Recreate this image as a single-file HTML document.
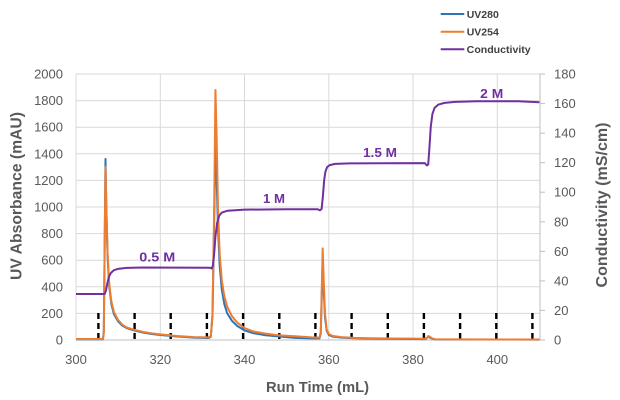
<!DOCTYPE html>
<html><head><meta charset="utf-8"><style>
html,body{margin:0;padding:0;background:#fff;}
svg{display:block;}
text{font-family:"Liberation Sans",sans-serif;}
</style></head><body>
<svg width="620" height="400" viewBox="0 0 620 400" xmlns="http://www.w3.org/2000/svg">
<rect width="620" height="400" fill="#fff"/>
<!-- gridlines -->
<g stroke="#d9d9d9" stroke-width="1">
<line x1="76" y1="74" x2="540" y2="74"/>
<line x1="76" y1="100.6" x2="540" y2="100.6"/>
<line x1="76" y1="127.2" x2="540" y2="127.2"/>
<line x1="76" y1="153.8" x2="540" y2="153.8"/>
<line x1="76" y1="180.4" x2="540" y2="180.4"/>
<line x1="76" y1="207" x2="540" y2="207"/>
<line x1="76" y1="233.6" x2="540" y2="233.6"/>
<line x1="76" y1="260.2" x2="540" y2="260.2"/>
<line x1="76" y1="286.8" x2="540" y2="286.8"/>
<line x1="76" y1="313.4" x2="540" y2="313.4"/>
<line x1="76" y1="74" x2="76" y2="340"/>
<line x1="160.3" y1="74" x2="160.3" y2="340"/>
<line x1="244.5" y1="74" x2="244.5" y2="340"/>
<line x1="328.8" y1="74" x2="328.8" y2="340"/>
<line x1="413" y1="74" x2="413" y2="340"/>
<line x1="497.3" y1="74" x2="497.3" y2="340"/>
</g>
<g stroke="#bfbfbf" stroke-width="1">
<line x1="76" y1="340" x2="540" y2="340"/>
<line x1="540" y1="74" x2="540" y2="340"/>
<line x1="540" y1="340" x2="545" y2="340"/>
<line x1="540" y1="310.4" x2="545" y2="310.4"/>
<line x1="540" y1="280.9" x2="545" y2="280.9"/>
<line x1="540" y1="251.3" x2="545" y2="251.3"/>
<line x1="540" y1="221.8" x2="545" y2="221.8"/>
<line x1="540" y1="192.2" x2="545" y2="192.2"/>
<line x1="540" y1="162.7" x2="545" y2="162.7"/>
<line x1="540" y1="133.1" x2="545" y2="133.1"/>
<line x1="540" y1="103.6" x2="545" y2="103.6"/>
<line x1="540" y1="74" x2="545" y2="74"/>
</g>
<!-- left tick labels -->
<g font-size="13" fill="#595959" text-anchor="end">
<text x="63" y="344.5">0</text>
<text x="63" y="317.9">200</text>
<text x="63" y="291.3">400</text>
<text x="63" y="264.7">600</text>
<text x="63" y="238.1">800</text>
<text x="63" y="211.5">1000</text>
<text x="63" y="184.9">1200</text>
<text x="63" y="158.3">1400</text>
<text x="63" y="131.7">1600</text>
<text x="63" y="105.1">1800</text>
<text x="63" y="78.5">2000</text>
</g>
<!-- right tick labels -->
<g font-size="13" fill="#595959" text-anchor="start">
<text x="554" y="344.5">0</text>
<text x="554" y="314.9">20</text>
<text x="554" y="285.4">40</text>
<text x="554" y="255.8">60</text>
<text x="554" y="226.3">80</text>
<text x="554" y="196.7">100</text>
<text x="554" y="167.2">120</text>
<text x="554" y="137.6">140</text>
<text x="554" y="108.1">160</text>
<text x="554" y="78.5">180</text>
</g>
<!-- bottom tick labels -->
<g font-size="13" fill="#595959" text-anchor="middle">
<text x="76" y="364">300</text>
<text x="160.3" y="364">320</text>
<text x="244.5" y="364">340</text>
<text x="328.8" y="364">360</text>
<text x="413" y="364">380</text>
<text x="497.3" y="364">400</text>
</g>
<!-- axis titles -->
<text x="317.5" y="392" font-size="14.5" font-weight="bold" fill="#595959" text-anchor="middle" textLength="103" lengthAdjust="spacingAndGlyphs">Run Time (mL)</text>
<text transform="translate(21.5,196) rotate(-90)" font-size="15.5" font-weight="bold" fill="#595959" text-anchor="middle" textLength="168" lengthAdjust="spacingAndGlyphs">UV Absorbance (mAU)</text>
<text transform="translate(607,205) rotate(-90)" font-size="15.5" font-weight="bold" fill="#595959" text-anchor="middle" textLength="165" lengthAdjust="spacingAndGlyphs">Conductivity (mS/cm)</text>
<!-- dashed markers -->
<g stroke="#000" stroke-width="2.4" stroke-dasharray="6,4">
<line x1="98.4" y1="313" x2="98.4" y2="340"/>
<line x1="134.6" y1="313" x2="134.6" y2="340"/>
<line x1="170.7" y1="313" x2="170.7" y2="340"/>
<line x1="206.9" y1="313" x2="206.9" y2="340"/>
<line x1="243.1" y1="313" x2="243.1" y2="340"/>
<line x1="279.3" y1="313" x2="279.3" y2="340"/>
<line x1="315.4" y1="313" x2="315.4" y2="340"/>
<line x1="351.6" y1="313" x2="351.6" y2="340"/>
<line x1="387.8" y1="313" x2="387.8" y2="340"/>
<line x1="423.9" y1="313" x2="423.9" y2="340"/>
<line x1="460.1" y1="313" x2="460.1" y2="340"/>
<line x1="496.3" y1="313" x2="496.3" y2="340"/>
<line x1="532.4" y1="313" x2="532.4" y2="340"/>
</g>
<!-- UV280 -->
<polyline fill="none" stroke="#2e75b6" stroke-width="2" stroke-linejoin="round" points="76,339.2 102.96,339.2 103.81,332.02 104.65,246.9 105.49,158.99 106.33,207 107.6,257.54 109.28,286.8 111.39,304.09 113.92,314.07 118.13,321.38 122.34,325.64 126.56,328.03 134.98,330.69 143.41,332.69 151.83,334.02 160.26,334.95 177.11,336.54 193.96,337.61 208.71,338 210.82,336.68 212.5,316.06 214.19,220.3 215.45,143.16 216.72,180.4 217.98,226.95 219.66,265.52 221.77,289.46 224.3,304.09 227.25,313.4 231.88,320.72 237.36,326.04 244.52,330.42 252.95,333.08 265.59,335.21 278.22,336.41 295.08,337.87 311.93,338.4 319.51,338.4 320.78,333.35 321.83,293.45 322.67,260.2 323.72,289.46 324.99,317.39 326.67,330.69 328.78,334.95 332.99,336.68 341.42,337.61 354.06,338.27 370.91,338.67 413.04,338.94 425.68,339.07 428.21,336.68 432,338.67 435,339.34 539.43,339.6"/>
<!-- UV254 -->
<polyline fill="none" stroke="#ed7d31" stroke-width="2" stroke-linejoin="round" points="76,338.94 102.96,338.94 103.81,332.02 104.65,246.9 105.49,167.1 106.33,207 107.6,253.55 109.28,284.14 111.39,301.43 113.92,312.07 118.13,320.05 122.34,324.71 126.56,327.37 134.98,330.03 143.41,332.02 151.83,333.35 160.26,334.41 177.11,336.01 193.96,337.07 208.71,337.34 210.82,336.01 212.5,313.4 214.19,207 215.45,89.96 216.72,140.5 217.98,207 219.66,253.55 221.77,280.15 224.3,296.11 227.25,306.75 231.88,316.06 237.36,322.71 244.52,328.03 252.95,331.36 265.59,333.62 278.22,335.21 295.08,336.28 311.93,337.34 319.51,337.61 320.78,332.02 321.83,286.8 322.67,248.36 323.72,280.15 324.99,313.4 326.67,329.36 328.78,334.02 332.99,336.01 341.42,337.07 354.06,337.87 370.91,338.27 391.98,338.54 413.04,338.67 425.68,338.8 427,338 428.21,336.01 429.9,336.68 432,338.4 435,339.2 455.17,339.34 497.3,339.47 539.43,339.47"/>
<!-- Conductivity -->
<polyline fill="none" stroke="#7030a0" stroke-width="2" stroke-linejoin="round" points="76,293.98 104.65,293.98 105.91,290.79 107.18,284.14 108.86,276.83 110.97,272.84 113.92,270.18 118.13,268.85 126.56,267.91 143.41,267.52 209.98,267.78 211.67,268.45 212.93,265.52 214.19,253.55 215.45,236.26 217.14,222.96 219.24,215.65 221.77,212.59 227.67,210.72 244.52,209.66 286.65,209.26 317.83,209.26 319.93,210.33 321.62,208.99 322.88,196.36 324.15,180.4 325.41,171.76 327.1,167.1 329.63,165.1 335.1,163.91 349.85,163.38 424.84,163.11 426.94,165.5 428.21,164.44 429.47,147.15 430.73,127.2 432.42,113.9 434.53,107.92 438.32,104.59 444.64,102.86 455.17,101.93 476.24,101.27 518.36,101.27 539.43,102.2"/>
<!-- step labels -->
<g font-size="13" font-weight="bold" fill="#7030a0" text-anchor="middle">
<text x="157.3" y="261.7" textLength="36" lengthAdjust="spacingAndGlyphs">0.5 M</text>
<text x="274" y="203" textLength="22" lengthAdjust="spacingAndGlyphs">1 M</text>
<text x="380" y="157" textLength="34" lengthAdjust="spacingAndGlyphs">1.5 M</text>
<text x="491.7" y="98" textLength="23" lengthAdjust="spacingAndGlyphs">2 M</text>
</g>
<!-- legend -->
<g stroke-width="2">
<line x1="440.7" y1="14" x2="464.3" y2="14" stroke="#2e75b6"/>
<line x1="440.7" y1="31.7" x2="464.3" y2="31.7" stroke="#ed7d31"/>
<line x1="440.7" y1="49.3" x2="464.3" y2="49.3" stroke="#7030a0"/>
</g>
<g font-size="10.5" font-weight="bold" fill="#404040">
<text x="466.7" y="17.8">UV280</text>
<text x="466.7" y="35.5">UV254</text>
<text x="466.7" y="53.1" textLength="64" lengthAdjust="spacingAndGlyphs">Conductivity</text>
</g>
</svg>
</body></html>
